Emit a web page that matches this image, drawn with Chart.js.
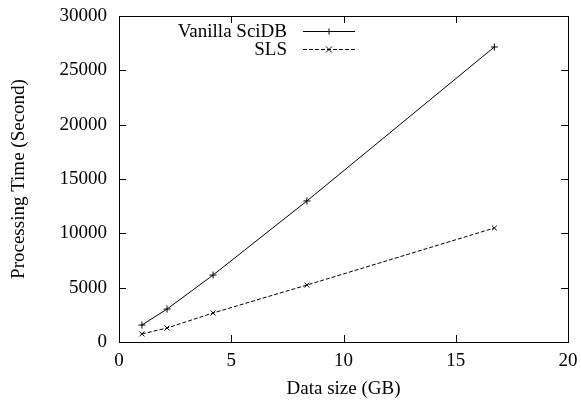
<!DOCTYPE html>
<html lang="en">
<head>
  <meta charset="UTF-8" />
  <title>Processing Time vs Data Size</title>
  <script src="https://cdn.jsdelivr.net/npm/chart.js"></script>
  <style>
    html, body { margin: 0; padding: 0; background: #fff; }
    #wrap { width: 581px; height: 405px; }
  </style>
</head>
<body>
  <div id="wrap"><canvas id="timeChart"></canvas></div>

  <script>
    // data
    const dataSizes = [1.02, 2.14, 4.19, 8.37, 16.72];
    const vanillaTimes = [1560, 3030, 6160, 12980, 27150];
    const slsTimes = [740, 1290, 2670, 5240, 10490];
    const xTicks = [0, 5, 10, 15, 20];
    const yTicks = [0, 5000, 10000, 15000, 20000, 25000, 30000];

    const serif = 'Liberation Serif';
    const fontSize = 19;

    function toPoints(xs, ys) {
      return xs.map((x, i) => ({ x: x, y: ys[i] }));
    }

    // gnuplot style frame, inward ticks on all four sides, and key
    const framePlugin = {
      id: 'frame',
      afterDraw(chart) {
        const ctx = chart.ctx;
        const a = chart.chartArea;
        const xs = chart.scales.x, ys = chart.scales.y;
        const len = 7;
        ctx.save();
        ctx.strokeStyle = '#000';
        ctx.lineWidth = 1;
        ctx.beginPath();
        xTicks.forEach(v => {
          const px = Math.round(xs.getPixelForValue(v)) + 0.5;
          ctx.moveTo(px, a.bottom); ctx.lineTo(px, a.bottom - len);
          ctx.moveTo(px, a.top); ctx.lineTo(px, a.top + len);
        });
        yTicks.forEach(v => {
          const py = Math.round(ys.getPixelForValue(v)) + 0.5;
          ctx.moveTo(a.left, py); ctx.lineTo(a.left + len, py);
          ctx.moveTo(a.right, py); ctx.lineTo(a.right - len, py);
        });
        ctx.stroke();
        ctx.strokeRect(Math.round(a.left) + 0.5, Math.round(a.top) + 0.5,
          Math.round(a.right - a.left), Math.round(a.bottom - a.top));

        // key
        ctx.font = fontSize + 'px "' + serif + '"';
        ctx.fillStyle = '#000';
        ctx.textAlign = 'right';
        ctx.textBaseline = 'middle';
        chart.data.datasets.forEach((ds, i) => {
          const y = 31 + i * 18 + 0.5;
          ctx.fillText(ds.label, 287, y + 1);
          ctx.setLineDash(ds.borderDash || []);
          ctx.beginPath();
          ctx.moveTo(303, y); ctx.lineTo(355, y);
          ctx.stroke();
          ctx.setLineDash([]);
          ctx.beginPath();
          if (ds.pointStyle === 'cross') {
            ctx.moveTo(326, y); ctx.lineTo(332, y);
            ctx.moveTo(329, y - 3); ctx.lineTo(329, y + 3);
          } else {
            ctx.moveTo(326, y - 3); ctx.lineTo(332, y + 3);
            ctx.moveTo(326, y + 3); ctx.lineTo(332, y - 3);
          }
          ctx.stroke();
        });
        ctx.restore();
      }
    };

    const ctx = document.getElementById('timeChart').getContext('2d');
    new Chart(ctx, {
      type: 'line',
      data: {
        datasets: [{
          label: 'Vanilla SciDB',
          data: toPoints(dataSizes, vanillaTimes),
          borderColor: '#000',
          borderWidth: 1,
          pointStyle: 'cross',
          pointRadius: 3.5,
          pointBorderColor: '#000',
          pointBorderWidth: 1
        }, {
          label: 'SLS',
          data: toPoints(dataSizes, slsTimes),
          borderColor: '#000',
          borderWidth: 1,
          borderDash: [4, 2],
          pointStyle: 'crossRot',
          pointRadius: 3.5,
          pointBorderColor: '#000',
          pointBorderWidth: 1
        }]
      },
      options: {
        responsive: true,
        maintainAspectRatio: false,
        animation: false,
        layout: { padding: { top: 16, right: 13, left: 0, bottom: 0 } },
        plugins: {
          legend: { display: false },
          tooltip: { enabled: false }
        },
        scales: {
          x: {
            type: 'linear',
            min: 0, max: 20,
            afterBuildTicks: s => { s.ticks = xTicks.map(v => ({ value: v })); },
            afterFit: s => { s.height = 63; s.paddingLeft = 0; s.paddingRight = 0; },
            grid: { display: false, drawTicks: false },
            border: { display: false },
            ticks: { color: '#000', padding: 8, font: { family: serif, size: fontSize } },
            title: {
              display: true, text: 'Data size (GB)', color: '#000',
              padding: { top: 0, bottom: 5 }, font: { family: serif, size: fontSize }
            }
          },
          y: {
            min: 0, max: 30000,
            afterBuildTicks: s => { s.ticks = yTicks.map(v => ({ value: v })); },
            afterFit: s => { s.width = 119; s.paddingTop = 0; s.paddingBottom = 0; },
            grid: { display: false, drawTicks: false },
            border: { display: false },
            ticks: {
              color: '#000', padding: 12, font: { family: serif, size: fontSize },
              callback: v => String(v)
            },
            title: {
              display: true, text: 'Processing Time (Second)', color: '#000',
              padding: { top: 8, bottom: 0 }, font: { family: serif, size: fontSize }
            }
          }
        }
      },
      plugins: [framePlugin]
    });
  </script>
</body>
</html>
